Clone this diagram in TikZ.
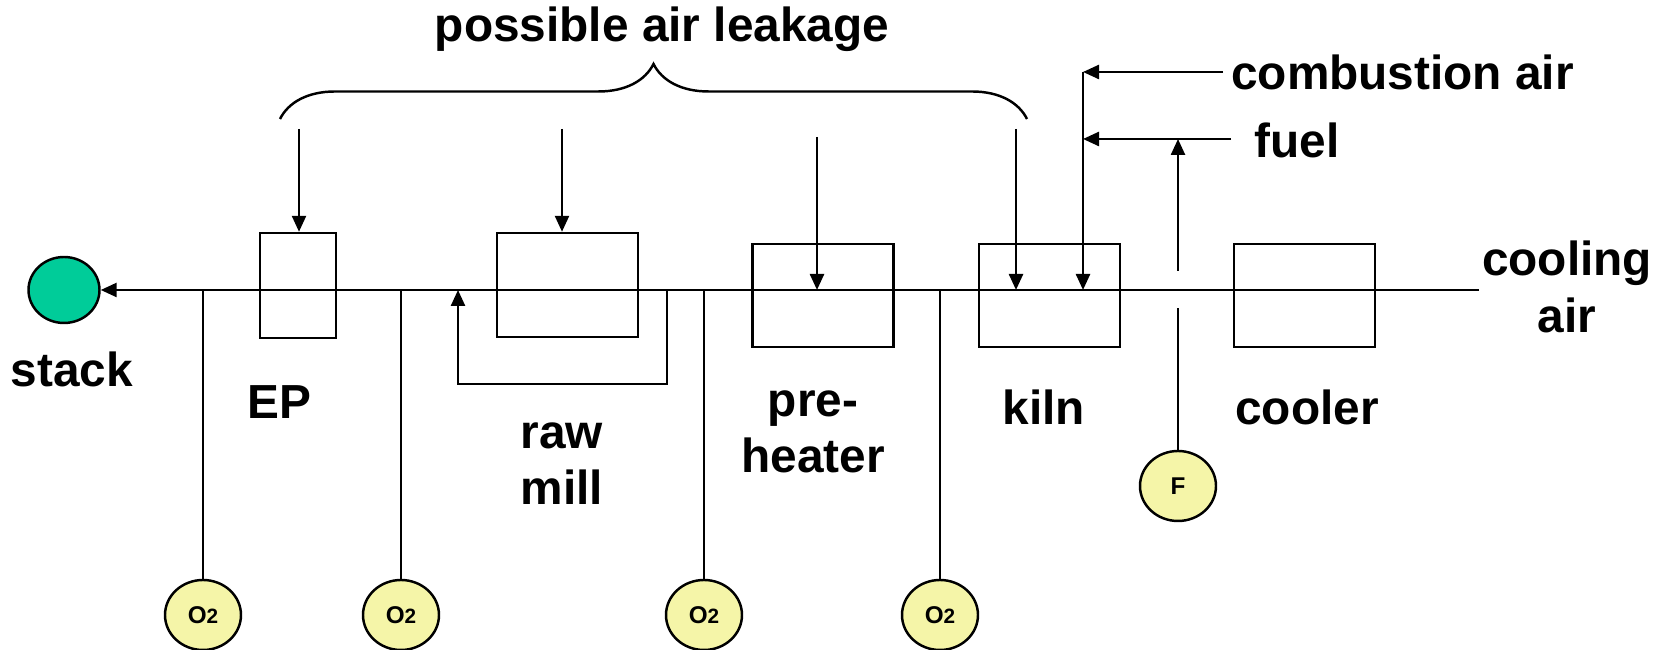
\documentclass[tikz,border=0pt]{standalone}
\usepackage{fontspec}
\setmainfont{Liberation Sans}
\usetikzlibrary{positioning, shapes.geometric, arrows.meta,
                decorations.pathreplacing}
\definecolor{stackG}{RGB}{0,204,153}
\definecolor{probeY}{RGB}{245,245,168}
\newcommand{\lblfont}{\bfseries\fontsize{13.6}{16}\selectfont}
\newcommand{\probefont}{\bfseries\fontsize{6.9}{8}\selectfont}
\newcommand{\subtwo}{{\fontsize{5.9}{7}\selectfont 2}}
\tikzset{
  pipe/.style  ={line width=0.7pt},
  flow/.style  ={pipe, -{Triangle[length=1.6mm, width=1.4mm]}},
  plant/.style ={draw, line width=0.7pt, inner sep=0pt,
                 minimum width=1.41cm, minimum height=1.03cm},
  probe/.style ={ellipse, draw, line width=0.7pt, fill=probeY, inner sep=0pt,
                 minimum width=0.76cm, minimum height=0.70cm, font=\probefont},
  lbl/.style   ={font=\lblfont, align=center, inner sep=1pt},
}

\begin{document}
\begin{tikzpicture}
\useasboundingbox (0,0) rectangle (16.68,6.5);

% stack + gas line
\node[ellipse, draw, pipe, fill=stackG, inner sep=0pt,
      minimum width=0.71cm, minimum height=0.66cm] (stack) at (0.64,3.60) {};
\coordinate (gasIn) at (14.79,3.60);
\draw[flow] (gasIn) -- (stack);

% plant units
\node[plant, minimum width=0.76cm, minimum height=1.05cm] (ep) at (2.98,3.645) {};
\node[plant, minimum height=1.04cm] (rm)   at (5.675,3.65)  {};
\node[plant]                        (ph)   at (8.23,3.545)  {};
\node[plant]                        (kiln) at (10.495,3.545) {};
\node[plant]                        (cool) at (13.045,3.545) {};

\node[lbl] (stackL) at (0.72,2.81) {stack};
\node[lbl] (epL)    at (2.79,2.48) {EP};
\node[lbl] (rmL)    at (5.62,1.86) {raw\\ mill};
\node[lbl] (phL)    at (8.13,2.18) {pre-\\ heater};
\node[lbl] (kilnL)  at (10.44,2.43) {kiln};
\node[lbl] (coolL)  at (13.07,2.43) {cooler};
\node[lbl] (cairL)  at (15.67,3.63) {cooling\\ air};

% raw mill recycle
\coordinate (rcOut) at (6.67,3.60);
\coordinate (rcLow) at (4.58,2.66);
\coordinate (rcIn)  at (4.58,3.60);
\draw[flow] (rcOut) |- (rcLow) -- (rcIn);

% O2 probes
\foreach \x/\n in {2.03/a, 4.01/b, 7.04/c, 9.40/d} {
  \node[probe] (o2\n) at (\x,0.35) {O\subtwo};
  \draw[pipe] (o2\n) -- (o2\n |- gasIn);
}

% fuel flow meter
\node[probe] (fm) at (11.78,1.64) {F};
\coordinate (fGapLo) at (11.78,3.42);
\coordinate (fGapHi) at (11.78,3.79);
\draw[pipe] (fm) -- (fGapLo);

% combustion air + fuel to kiln
\coordinate (cairIn)   at (12.23,5.78);
\coordinate (cairTurn) at (10.83,5.78);
\coordinate (fuelIn)   at (12.31,5.11);
\draw[flow] (cairIn) -- (cairTurn);
\draw[flow] (cairTurn) -- (cairTurn |- gasIn);
\draw[flow] (fuelIn) -- (fuelIn -| cairTurn);
\draw[flow] (fGapHi) -- (fGapHi |- fuelIn);
\node[lbl, anchor=west] (combL) at (12.27,5.78) {combustion air};
\node[lbl] (fuelL) at (12.97,5.10) {fuel};

% possible air leakage
\coordinate (brL) at (2.80,5.31);
\coordinate (brR) at (10.27,5.31);
\draw[pipe, decorate, decoration={brace, amplitude=0.55cm}] (brL) -- (brR);
\node[lbl] (leakL) at (6.62,6.21) {possible air leakage};
\coordinate (lkA) at (2.99,5.21);
\coordinate (lkB) at (5.62,5.21);
\coordinate (lkC) at (8.17,5.13);
\coordinate (lkD) at (10.16,5.21);
\draw[flow] (lkA) -- (lkA |- ep.north);
\draw[flow] (lkB) -- (lkB |- rm.north);
\draw[flow] (lkC) -- (lkC |- gasIn);
\draw[flow] (lkD) -- (lkD |- gasIn);

\end{tikzpicture}
\end{document}
